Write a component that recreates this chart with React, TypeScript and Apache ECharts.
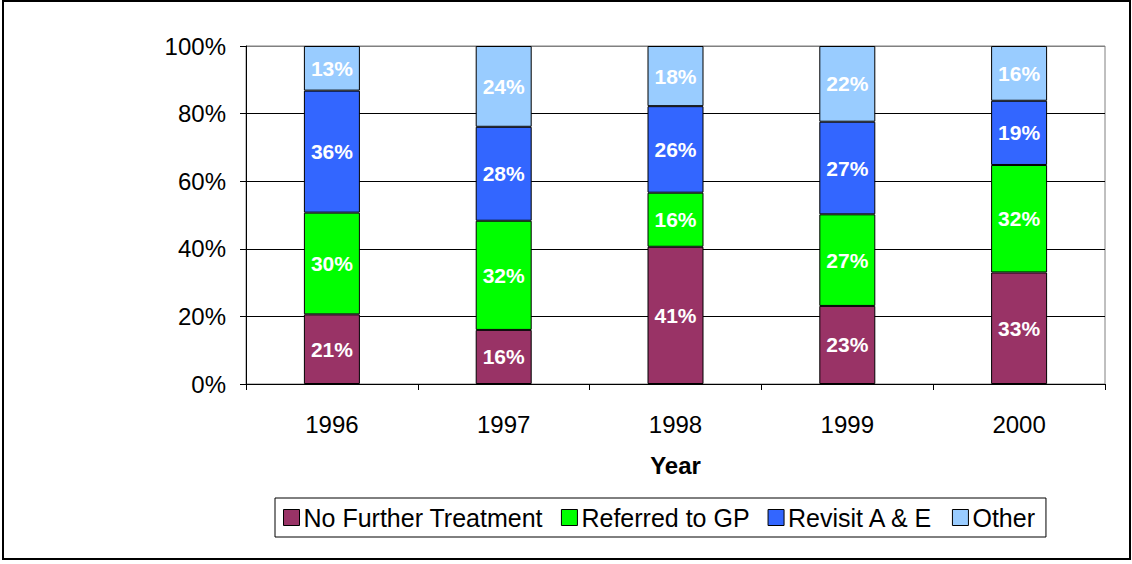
import React, { useEffect, useRef } from "react";
import * as echarts from "echarts";

const years = ["1996", "1997", "1998", "1999", "2000"];
const noFurther = [20.6, 16.0, 40.6, 23.1, 33.0];
const referredGP = [30.1, 32.3, 16.0, 27.1, 31.8];
const revisitAE = [36.1, 27.8, 25.6, 27.4, 19.0];
const other = [13.2, 23.9, 17.8, 22.4, 16.2];
const seriesNames = ["No Further Treatment", "Referred to GP", "Revisit A & E", "Other"];
const seriesColors = ["#993366", "#00FF00", "#3366FF", "#99CCFF"];

export default function App() {
  const ref = useRef<HTMLDivElement>(null);
  useEffect(() => {
    if (!ref.current) return;
    const chart = echarts.init(ref.current, undefined, { renderer: "svg" });
    const values = [noFurther, referredGP, revisitAE, other];
    const font = "Arial, 'Liberation Sans', sans-serif";
    chart.setOption({
      animation: false,
      backgroundColor: "#ffffff",
      textStyle: { fontFamily: font },
      graphic: [
        {
          type: "rect",
          shape: { x: 3, y: 1, width: 1127, height: 558 },
          style: { fill: "none", stroke: "#000", lineWidth: 2 },
          z: 100,
        },
      ],
      grid: {
        left: 246,
        right: 27,
        top: 46,
        bottom: 180,
        show: true,
        borderColor: "#808080",
        borderWidth: 1,
        backgroundColor: "transparent",
      },
      legend: {
        show: true,
        bottom: 27,
        left: 275,
        orient: "horizontal",
        itemWidth: 16,
        itemHeight: 16,
        itemGap: 18,
        padding: [7, 11, 7, 8],
        borderColor: "#000",
        borderWidth: 1,
        textStyle: { fontSize: 25, color: "#000", fontFamily: font, padding: [0, 0, 0, -1] },
        icon: "rect",
        data: seriesNames.map((n, i) => ({
          name: n,
          itemStyle: { color: seriesColors[i], borderColor: "#000", borderWidth: 1 },
        })),
      },
      xAxis: {
        type: "category",
        data: years,
        name: "Year",
        nameLocation: "middle",
        nameGap: 69,
        nameTextStyle: { fontSize: 24, fontWeight: "bold", color: "#000", fontFamily: font },
        axisLine: { lineStyle: { color: "#000", width: 1 } },
        axisTick: { show: true, alignWithLabel: false, length: 6, lineStyle: { color: "#000" } },
        axisLabel: { fontSize: 24, color: "#000", margin: 28, fontFamily: font },
      },
      yAxis: {
        type: "value",
        min: 0,
        max: 100,
        interval: 20,
        axisLine: { show: true, lineStyle: { color: "#000", width: 1 } },
        axisTick: { show: true, length: 6, lineStyle: { color: "#000" } },
        axisLabel: {
          fontSize: 24,
          color: "#000",
          margin: 20,
          fontFamily: font,
          formatter: (v: number) => v + "%",
        },
        splitLine: {
          show: true,
          lineStyle: { color: ["#000", "#000", "#000", "#000", "#000", "#808080"], width: 1 },
        },
      },
      series: seriesNames.map((name, i) => ({
        name,
        type: "bar",
        stack: "total",
        barWidth: 56,
        data: values[i],
        itemStyle: { color: seriesColors[i], borderColor: "#000", borderWidth: 1 },
        label: {
          show: true,
          position: "inside",
          color: "#fff",
          fontSize: 21,
          fontWeight: "bold",
          fontFamily: font,
          formatter: (p: any) => Math.round(p.value) + "%",
        },
      })),
    });
    return () => chart.dispose();
  }, []);
  return (
    <div
      ref={ref}
      style={{ position: "fixed", left: 0, top: 0, width: 1132, height: 564 }}
    />
  );
}
